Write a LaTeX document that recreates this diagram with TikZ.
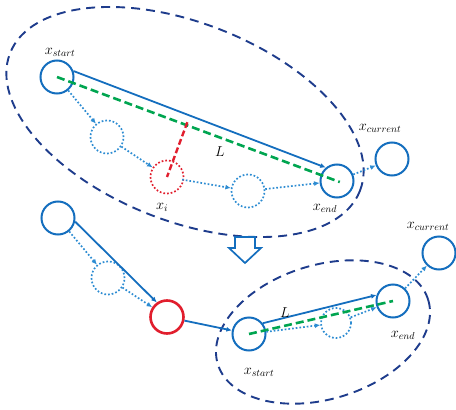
\documentclass[tikz,border=0pt]{standalone}
\definecolor{blue1}{RGB}{20, 110, 190}
\definecolor{navy1}{RGB}{30, 60, 140}
\definecolor{sky1}{RGB}{45, 140, 210}
\definecolor{green1}{RGB}{0, 165, 80}
\definecolor{red1}{RGB}{225, 30, 45}
\usepackage{tikz}
\usetikzlibrary{arrows.meta, calc}

\begin{document}
\begin{tikzpicture}[x=1pt, y=1pt,
  state/.style={circle, draw=blue1, line width=2pt, minimum size=33pt, inner sep=0pt},
  ghost/.style={circle, draw=sky1, line width=1.7pt, dotted, minimum size=33pt, inner sep=0pt},
  cluster/.style={draw=navy1, line width=1.9pt, dash pattern=on 9pt off 6pt},
  move/.style={draw=blue1, line width=1.8pt, -{Latex[length=5.5pt, width=5pt]}},
  hop/.style={draw=sky1, line width=1.7pt, dotted, -{Latex[length=5.5pt, width=5pt]}},
  chord/.style={draw=green1, line width=2.6pt, dash pattern=on 8pt off 4pt},
  lbl/.style={font=\Large, inner sep=0pt}]
  \useasboundingbox (0,0) rectangle (456,-410);

  % Upper segment
  \draw[cluster, rotate around={-21.5:(185,-122)}] (185,-122) ellipse [x radius=188, y radius=99];
  \node[state] (xs1) at (57,-77) {};
  \node[ghost] (d1) at (107,-137) {};
  \node[ghost, draw=red1] (xi) at (167,-177) {};
  \node[ghost] (d2) at (248,-191) {};
  \node[state] (xe1) at (337,-181) {};
  \node[state] (xc1) at (392,-159) {};

  \draw[chord] (xs1.center) -- ($(xs1)!1.01!(xe1)$);
  \draw[move] (xs1.20) -- (xe1.130);
  \coordinate (ft) at ($(xs1)!(xi)!(xe1)$);
  \draw[red1, line width=2.4pt, dash pattern=on 6pt off 3pt] ($(ft)!-3pt!(xi)$) -- (xi.center);
  \draw[hop] (xs1) -- (d1);
  \draw[hop] (d1) -- (xi);
  \draw[hop, shorten <=-2pt] (xi) -- (d2);
  \draw[hop] (d2) -- (xe1);
  \draw[hop] (xe1) -- (xc1);

  \node[lbl] (lxs1) at (60,-52) {$x_{start}$};
  \node[lbl] (lL1) at (220,-152) {$L$};
  \node[lbl] (lxi) at (162,-207) {$x_i$};
  \node[lbl] (lxe1) at (325,-208) {$x_{end}$};
  \node[lbl] (lxc1) at (380,-128) {$x_{current}$};

  % Hollow arrow
  \draw[blue1, line width=1.7pt, fill=white] (235,-237) -- (255,-237) -- (255,-248) -- (261,-248)
    -- (245,-263) -- (229,-248) -- (235,-248) -- cycle;

  % Lower segment
  \draw[cluster, rotate around={17:(323,-332)}] (323,-332) ellipse [x radius=110, y radius=67];
  \node[state] (a) at (58,-218) {};
  \node[ghost] (d3) at (108,-278) {};
  \node[state, draw=red1, line width=2.6pt] (r) at (167,-317) {};
  \node[state] (xs2) at (249,-334) {};
  \node[ghost, minimum size=30pt] (d4) at (336,-323) {};
  \node[state] (xe2) at (393,-301) {};
  \node[state] (xc2) at (439,-253) {};

  \draw[move] (a.-12) -- (r.125);
  \draw[hop] (a) -- (d3);
  \draw[hop] (d3) -- (r);
  \draw[move] (r) -- (xs2);
  \draw[chord] (xs2.center) -- (xe2.center);
  \draw[move] (xs2.38) -- (xe2.160);
  \draw[hop] (xs2) -- (d4);
  \draw[hop] (d4) -- (xe2);
  \draw[hop] (xe2) -- (xc2);

  \node[lbl] (lL2) at (285,-313) {$L$};
  \node[lbl] (lxs2) at (259,-372) {$x_{start}$};
  \node[lbl] (lxe2) at (403,-335) {$x_{end}$};
  \node[lbl] (lxc2) at (428,-226) {$x_{current}$};
\end{tikzpicture}
\end{document}
